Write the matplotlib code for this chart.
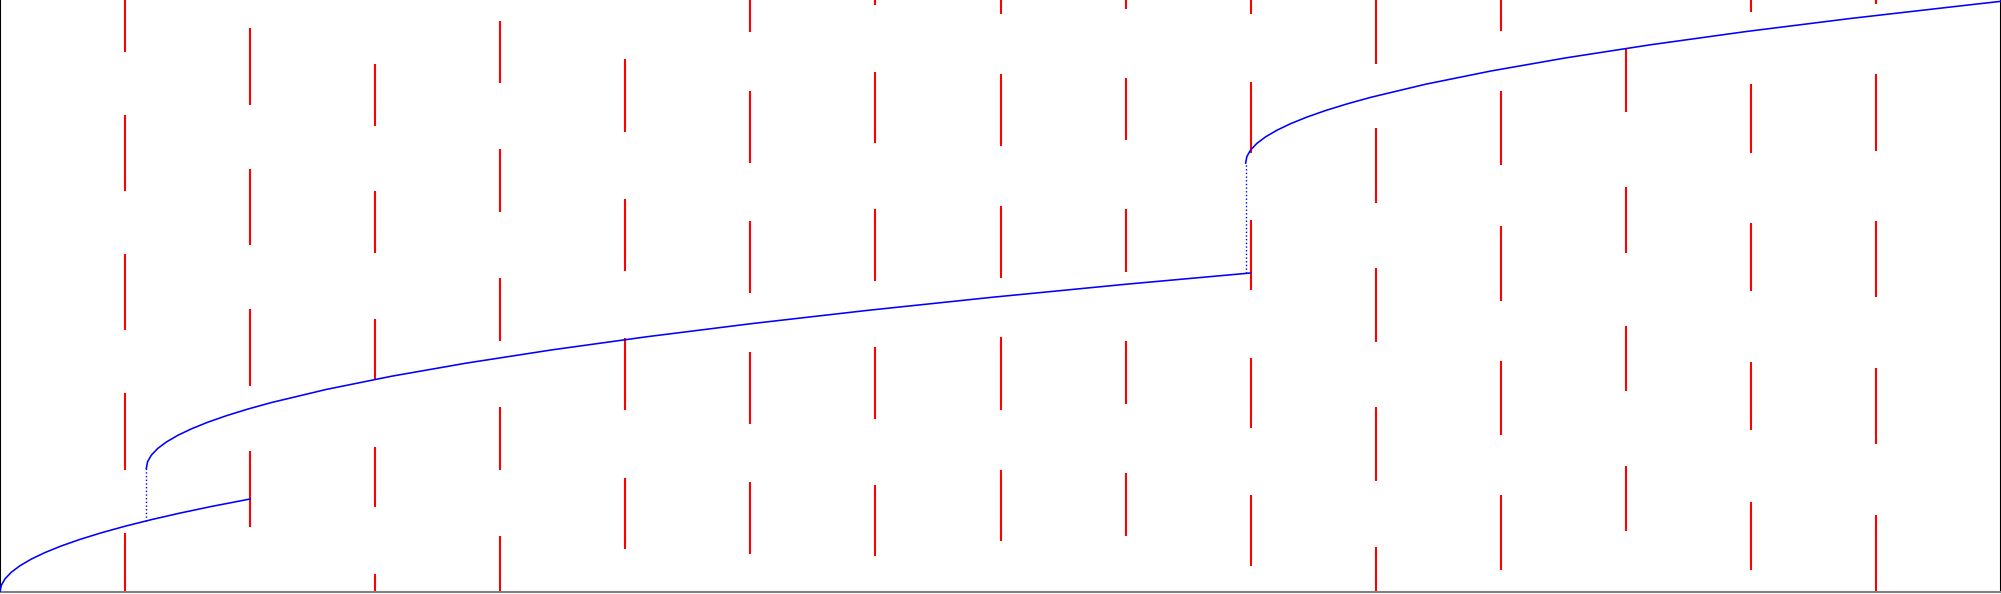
import matplotlib
matplotlib.use("Agg")
import matplotlib.pyplot as plt

# ---- data ----
# red dashes: one column per integer x, each dash given by (low, high)
col_x = [1, 2, 3, 4, 5, 6, 7, 8, 9, 10, 11, 12, 13, 14, 15]
dash_lo = [
    [8.21, 6.09, 3.98, 1.86, -0.26],
    [7.41, 5.27, 3.13, 0.99],
    [7.09, 5.16, 3.24, 1.29, -0.65],
    [7.74, 5.77, 3.82, 1.86, -0.10],
    [7.00, 4.88, 2.77, 0.66],
    [8.51, 6.52, 4.54, 2.56, 0.58],
    [8.92, 6.82, 4.73, 2.63, 0.54],
    [8.78, 6.78, 4.77, 2.77, 0.77],
    [8.87, 6.87, 4.86, 2.86, 0.85],
    [8.78, 6.67, 4.59, 2.50, 0.40],
    [8.03, 5.91, 3.80, 1.68, -0.44],
    [8.53, 6.49, 4.43, 2.38, 0.33],
    [7.29, 5.16, 3.05, 0.93],
    [8.81, 6.68, 4.57, 2.46, 0.33],
    [8.94, 6.71, 4.48, 2.25, 0.02],
]
dash_hi = [
    [9.36, 7.25, 5.14, 3.02, 0.89],
    [8.58, 6.43, 4.30, 2.15],
    [8.02, 6.09, 4.15, 2.21, 0.28],
    [8.68, 6.73, 4.77, 2.81, 0.85],
    [8.10, 5.98, 3.86, 1.74],
    [9.60, 7.62, 5.64, 3.65, 1.67],
    [10.0, 7.91, 5.82, 3.72, 1.63],
    [9.87, 7.87, 5.87, 3.87, 1.86],
    [9.82, 7.82, 5.82, 3.81, 1.81],
    [9.85, 7.75, 5.65, 3.56, 1.47],
    [9.16, 7.05, 4.93, 2.81, 0.69],
    [9.66, 7.61, 5.56, 3.51, 1.47],
    [8.27, 6.15, 4.04, 1.92],
    [9.86, 7.73, 5.61, 3.49, 1.37],
    [10.1, 7.87, 5.64, 3.41, 1.17],
]

# blue curve, three pieces
curve1_x = [0.0, 0.01, 0.04, 0.09, 0.16, 0.25, 0.36, 0.49, 0.64, 0.81, 1.00,
            1.21, 1.44, 1.69, 2.00]
curve1_y = [0.0, 0.10, 0.20, 0.30, 0.40, 0.50, 0.60, 0.70, 0.80, 0.90, 1.00,
            1.10, 1.20, 1.30, 1.414]
curve2_x = [1.17, 1.18, 1.21, 1.26, 1.33, 1.42, 1.53, 1.66, 1.81, 1.98, 2.17,
            2.61, 3.13, 3.73, 4.41, 5.17, 6.01, 6.93, 7.93, 9.01, 10.0]
curve2_y = [1.88, 1.98, 2.08, 2.18, 2.28, 2.38, 2.48, 2.58, 2.68, 2.78, 2.88,
            3.08, 3.28, 3.48, 3.68, 3.88, 4.08, 4.28, 4.48, 4.68, 4.85]
curve3_x = [9.96, 9.97, 10.00, 10.05, 10.12, 10.21, 10.32, 10.45, 10.60, 10.77,
            10.96, 11.40, 11.92, 12.52, 13.20, 13.96, 14.80, 15.72, 16.0]
curve3_y = [6.52, 6.62, 6.72, 6.82, 6.92, 7.02, 7.12, 7.22, 7.32, 7.42,
            7.52, 7.72, 7.92, 8.12, 8.32, 8.52, 8.72, 8.92, 8.98]

# dotted jumps between pieces
jump_x = [1.17, 9.96]
jump_from = [1.08, 4.845]
jump_to = [1.88, 6.52]

# ---- drawing ----
fig = plt.figure(figsize=(20.01, 5.94), dpi=100)
ax = fig.add_axes([0, 2 / 594, 1, 592 / 594])

for x, los, his in zip(col_x, dash_lo, dash_hi):
    ax.vlines([x] * len(los), los, his, colors="#ff0000", linewidth=1.5, zorder=2)

for cx, cy in [(curve1_x, curve1_y), (curve2_x, curve2_y), (curve3_x, curve3_y)]:
    ax.plot(cx, cy, color="#0000ff", linewidth=1.15, zorder=3)

ax.vlines(jump_x, jump_from, jump_to, colors="#0000ff", linestyles=":",
          linewidth=1.0, zorder=3)

ax.set_xlim(0, 16)
ax.set_ylim(0, 9.0)
ax.set_xticks([])
ax.set_yticks([])
ax.spines["top"].set_visible(False)
ax.spines["bottom"].set_color("gray")
ax.spines["bottom"].set_linewidth(1.5)
ax.spines["left"].set_color("black")
ax.spines["left"].set_linewidth(1.5)
ax.spines["right"].set_color("black")
ax.spines["right"].set_linewidth(1.5)

fig.savefig("out.png", dpi=100)
